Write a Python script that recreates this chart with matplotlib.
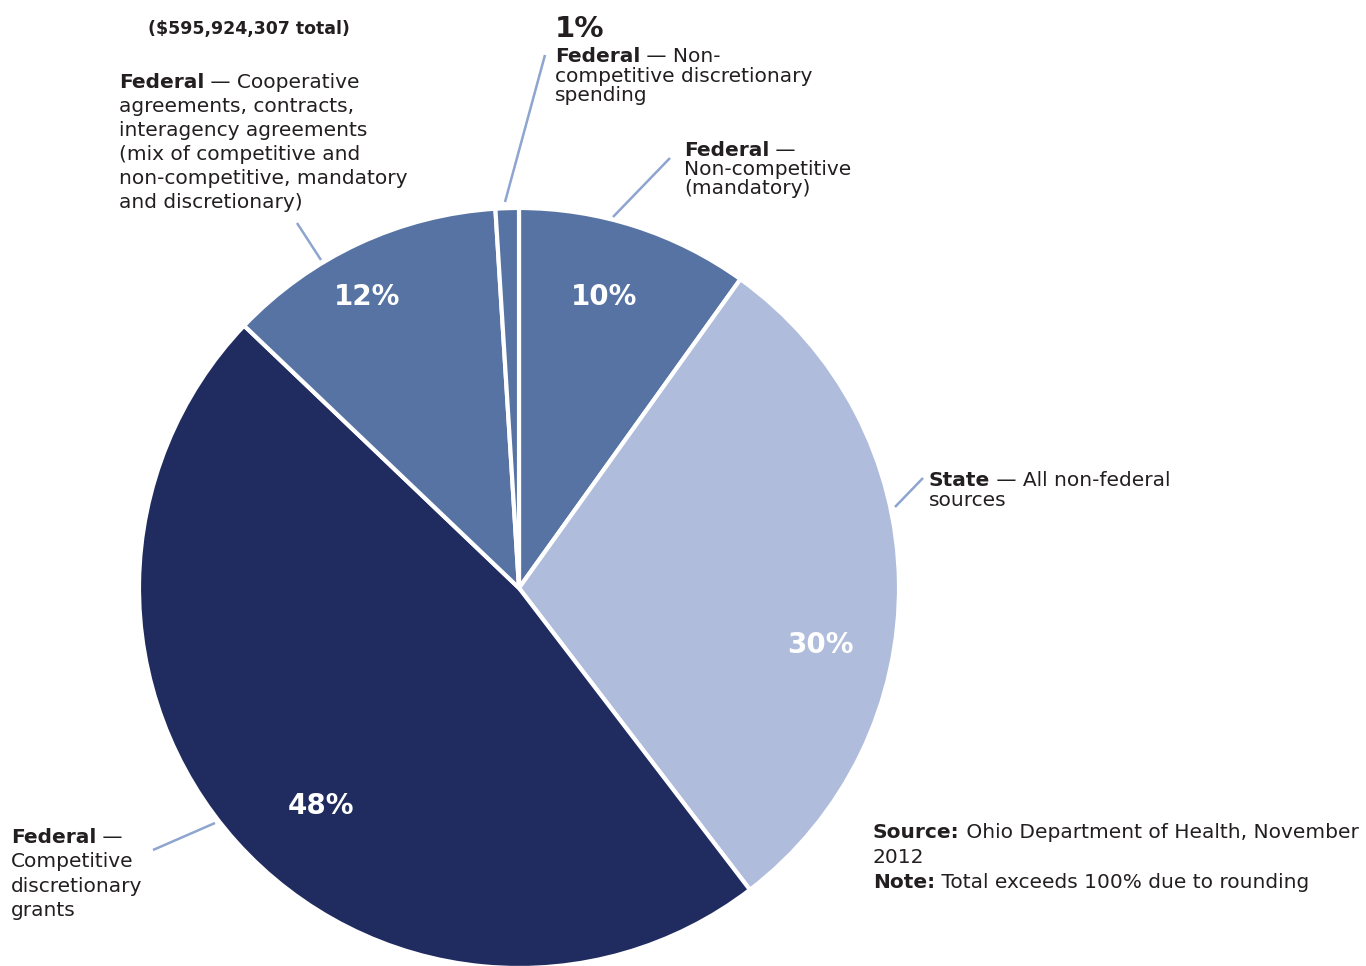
import matplotlib.pyplot as plt

plt.rcParams['font.family'] = ['DejaVu Sans']

# funding shares, clockwise from 12 o'clock (rounded, so they sum to 101)
shares = [10, 30, 48, 12, 1]
colors = ['#5773a3', '#afbcdb', '#202c5f', '#5773a3', '#5773a3']
pct_labels = ['%d%%' % s for s in shares]

TEXT = '#231f20'
LEADER = '#8da5cf'

fig = plt.figure(figsize=(13.66, 9.66), dpi=100)
ax = fig.add_axes([0, 0, 1, 1])

# pixel-like coordinates, y grows downward, so the angles run the other way
ax.pie(shares, colors=colors, startangle=-90, counterclock=True,
       radius=380, center=(519, 588),
       wedgeprops=dict(edgecolor='white', linewidth=3))
ax.set_xlim(0, 1366)
ax.set_ylim(966, 0)
ax.set_aspect('equal')
ax.axis('off')


def block(x, y, step, head, rest, lines, size=14.5):
    t = ax.text(x, y, head, fontsize=size, fontweight='bold', color=TEXT,
                va='baseline', ha='left')
    ax.annotate(rest, xy=(1, 0), xycoords=t, fontsize=size, color=TEXT,
                va='bottom', ha='left')
    for i, line in enumerate(lines):
        ax.text(x, y + (i + 1) * step, line, fontsize=size, color=TEXT,
                va='baseline', ha='left')


def leader(x0, y0, x1, y1):
    ax.plot([x0, x1], [y0, y1], color=LEADER, lw=1.8, solid_capstyle='butt')


ax.text(148, 34, '($595,924,307 total)', fontsize=12.5, fontweight='bold',
        color=TEXT, va='baseline')

# percentages inside the wedges
inside = {0: (604, 297), 1: (820, 645), 2: (321, 806), 3: (367, 297)}
for i, (px, py) in inside.items():
    ax.text(px, py, pct_labels[i], fontsize=20, fontweight='bold',
            color='white', ha='center', va='center')
ax.text(555, 37, pct_labels[4], fontsize=21, fontweight='bold', color=TEXT,
        va='baseline')

block(555, 62, 19.5, 'Federal', ' \u2014 Non-',
      ['competitive discretionary', 'spending'])
leader(505, 202, 545, 55)

block(119, 88, 24, 'Federal', ' \u2014 Cooperative',
      ['agreements, contracts,', 'interagency agreements',
       '(mix of competitive and', 'non-competitive, mandatory',
       'and discretionary)'])
leader(297, 223, 321, 260)

block(684, 156, 19, 'Federal', ' \u2014',
      ['Non-competitive', '(mandatory)'])
leader(670, 158, 613, 217)

block(929, 486, 20, 'State', ' \u2014 All non-federal', ['sources'])
leader(923, 478, 895, 507)

block(11, 843, 24.3, 'Federal', ' \u2014',
      ['Competitive', 'discretionary', 'grants'])
leader(215, 823, 153, 850)

block(873, 838, 25, 'Source:', ' Ohio Department of Health, November',
      ['2012'])
block(873, 888, 25, 'Note:', ' Total exceeds 100% due to rounding', [])

fig.savefig('out.png', dpi=100)
